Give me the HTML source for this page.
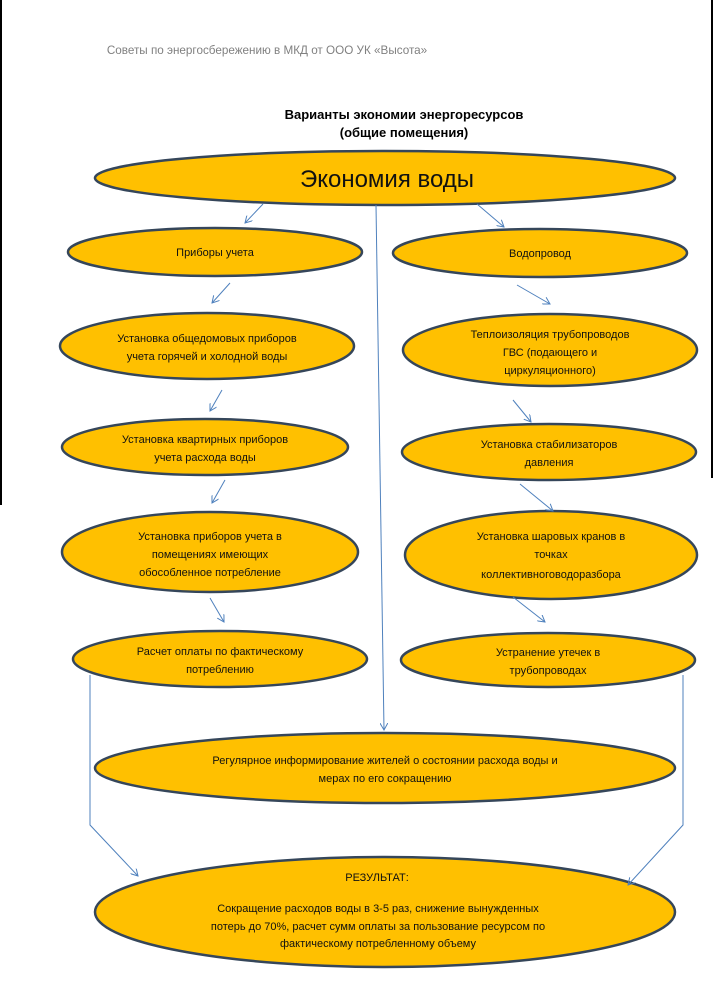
<!DOCTYPE html>
<html><head><meta charset="utf-8"><style>
html,body{margin:0;padding:0;background:#fff;}
svg{display:block;font-family:"Liberation Sans","DejaVu Sans",sans-serif;}
</style></head><body>
<svg width="714" height="995" viewBox="0 0 714 995" xmlns="http://www.w3.org/2000/svg">
<defs><marker id="a" markerWidth="8" markerHeight="8" refX="7" refY="4" orient="auto" markerUnits="userSpaceOnUse"><path d="M0,0 L7,4 L0,8" fill="none" stroke="#4f81bd" stroke-width="1"/></marker></defs>
<line x1="1" y1="0" x2="1" y2="505" stroke="#000" stroke-width="2"/>
<line x1="712" y1="0" x2="712" y2="478" stroke="#000" stroke-width="2"/>
<text x="267" y="54" font-size="11.7" fill="#808080" text-anchor="middle">Советы по энергосбережению в МКД от ООО УК «Высота»</text>
<text x="404" y="119" font-size="13" font-weight="bold" text-anchor="middle">Варианты экономии энергоресурсов</text>
<text x="404" y="137" font-size="13" font-weight="bold" text-anchor="middle">(общие помещения)</text>
<g fill="#ffc000" stroke="#35465a" stroke-width="2.5">
<ellipse cx="385" cy="178" rx="290" ry="27"/>
<ellipse cx="215" cy="252" rx="147" ry="24"/>
<ellipse cx="540" cy="253" rx="147" ry="24"/>
<ellipse cx="207" cy="346" rx="147" ry="33"/>
<ellipse cx="550" cy="350" rx="147" ry="36"/>
<ellipse cx="205" cy="447" rx="143" ry="28"/>
<ellipse cx="549" cy="452" rx="147" ry="28"/>
<ellipse cx="210" cy="552" rx="148" ry="40"/>
<ellipse cx="551" cy="555" rx="146" ry="44"/>
<ellipse cx="220" cy="659" rx="147" ry="28"/>
<ellipse cx="548" cy="660" rx="147" ry="27"/>
<ellipse cx="385" cy="768" rx="290" ry="35"/>
<ellipse cx="385" cy="912" rx="290" ry="55"/>
</g>
<g stroke="#4f81bd" stroke-width="1" fill="none" marker-end="url(#a)">
<line x1="263" y1="204" x2="245" y2="223"/>
<line x1="477" y1="204" x2="504" y2="227"/>
<line x1="230" y1="283" x2="212" y2="303"/>
<line x1="517" y1="285" x2="550" y2="304"/>
<line x1="222" y1="390" x2="210" y2="411"/>
<line x1="513" y1="400" x2="531" y2="422"/>
<line x1="225" y1="480" x2="212" y2="503"/>
<line x1="520" y1="484" x2="553" y2="511"/>
<line x1="210" y1="598" x2="224" y2="622"/>
<line x1="513" y1="597" x2="545" y2="622"/>
<line x1="376" y1="205" x2="384" y2="730"/>
<polyline points="90,675 90,825 138,876"/>
<polyline points="683,675 683,825 628,885"/>
</g>
<g font-size="11" fill="#111" text-anchor="middle">
<text x="387" y="187" font-size="24">Экономия воды</text>
<text x="215" y="256">Приборы учета</text>
<text x="540" y="257">Водопровод</text>
<text x="207" y="342">Установка общедомовых приборов</text>
<text x="207" y="360">учета горячей и холодной воды</text>
<text x="550" y="338">Теплоизоляция трубопроводов</text>
<text x="550" y="356">ГВС (подающего и</text>
<text x="550" y="374">циркуляционного)</text>
<text x="205" y="443">Установка квартирных приборов</text>
<text x="205" y="461">учета расхода воды</text>
<text x="549" y="448">Установка стабилизаторов</text>
<text x="549" y="466">давления</text>
<text x="210" y="540">Установка приборов учета в</text>
<text x="210" y="558">помещениях имеющих</text>
<text x="210" y="576">обособленное потребление</text>
<text x="551" y="540">Установка шаровых кранов в</text>
<text x="551" y="558">точках</text>
<text x="551" y="578">коллективноговодоразбора</text>
<text x="220" y="655">Расчет оплаты по фактическому</text>
<text x="220" y="673">потреблению</text>
<text x="548" y="656">Устранение утечек в</text>
<text x="548" y="674">трубопроводах</text>
<text x="385" y="764">Регулярное информирование жителей о состоянии расхода воды и</text>
<text x="385" y="782">мерах по его сокращению</text>
<text x="377" y="881">РЕЗУЛЬТАТ:</text>
<text x="378" y="912">Сокращение расходов воды в 3-5 раз, снижение вынужденных</text>
<text x="378" y="930">потерь до 70%, расчет сумм оплаты за пользование ресурсом по</text>
<text x="378" y="947">фактическому потребленному объему</text>
</g>
</svg>
</body></html>
